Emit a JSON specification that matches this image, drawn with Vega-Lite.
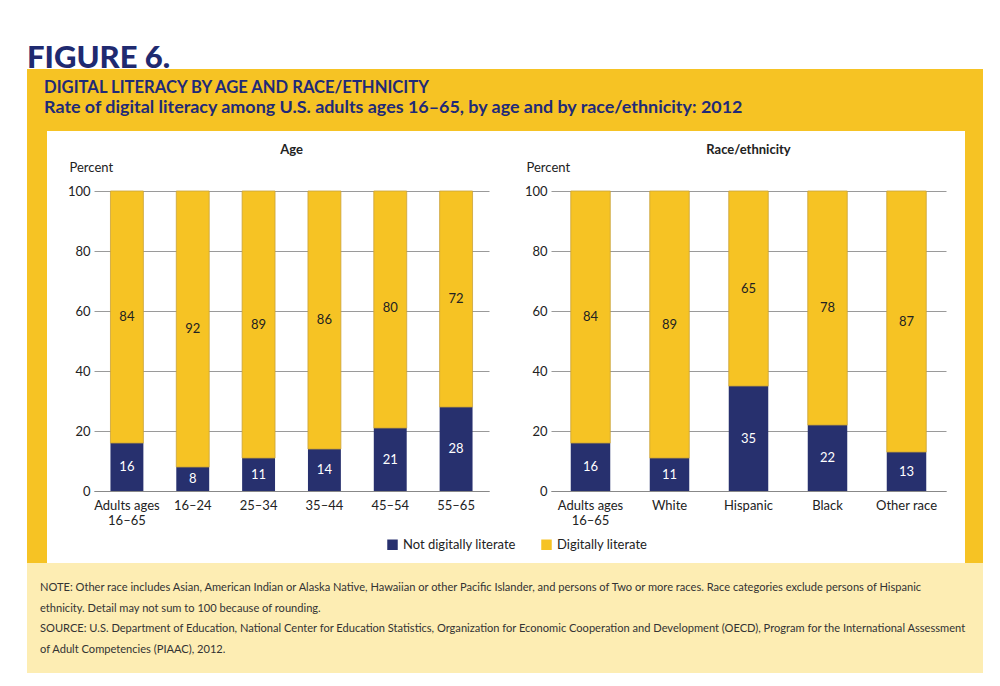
{
  "$schema": "https://vega.github.io/schema/vega-lite/v6.json",
  "background": "white",
  "padding": {"left": 27, "right": 17, "top": 43, "bottom": 14},
  "title": {"text": "FIGURE 6.", "anchor": "start", "font": "Lato", "fontSize": 31, "fontWeight": 900, "color": "#1F2A70", "offset": -6},
  "datasets": {
    "header": [
      {"line": 1, "text": "DIGITAL LITERACY BY AGE AND RACE/ETHNICITY"},
      {"line": 2, "text": "Rate of digital literacy among U.S. adults ages 16–65, by age and by race/ethnicity: 2012"}
    ],
    "notes": [
      {"line": 1, "text": "NOTE: Other race includes Asian, American Indian or Alaska Native, Hawaiian or other Pacific Islander, and persons of Two or more races. Race categories exclude persons of Hispanic"},
      {"line": 2, "text": "ethnicity. Detail may not sum to 100 because of rounding."},
      {"line": 3, "text": "SOURCE: U.S. Department of Education, National Center for Education Statistics, Organization for Economic Cooperation and Development (OECD), Program for the International Assessment"},
      {"line": 4, "text": "of Adult Competencies (PIAAC), 2012."}
    ],
    "bars": [
      {"panel": "Age", "cat": "Adults ages 16–65", "status": "Not digitally literate", "pct": 16},
      {"panel": "Age", "cat": "Adults ages 16–65", "status": "Digitally literate", "pct": 84},
      {"panel": "Age", "cat": "16–24", "status": "Not digitally literate", "pct": 8},
      {"panel": "Age", "cat": "16–24", "status": "Digitally literate", "pct": 92},
      {"panel": "Age", "cat": "25–34", "status": "Not digitally literate", "pct": 11},
      {"panel": "Age", "cat": "25–34", "status": "Digitally literate", "pct": 89},
      {"panel": "Age", "cat": "35–44", "status": "Not digitally literate", "pct": 14},
      {"panel": "Age", "cat": "35–44", "status": "Digitally literate", "pct": 86},
      {"panel": "Age", "cat": "45–54", "status": "Not digitally literate", "pct": 21},
      {"panel": "Age", "cat": "45–54", "status": "Digitally literate", "pct": 80},
      {"panel": "Age", "cat": "55–65", "status": "Not digitally literate", "pct": 28},
      {"panel": "Age", "cat": "55–65", "status": "Digitally literate", "pct": 72},
      {"panel": "Race", "cat": "Adults ages 16–65", "status": "Not digitally literate", "pct": 16},
      {"panel": "Race", "cat": "Adults ages 16–65", "status": "Digitally literate", "pct": 84},
      {"panel": "Race", "cat": "White", "status": "Not digitally literate", "pct": 11},
      {"panel": "Race", "cat": "White", "status": "Digitally literate", "pct": 89},
      {"panel": "Race", "cat": "Hispanic", "status": "Not digitally literate", "pct": 35},
      {"panel": "Race", "cat": "Hispanic", "status": "Digitally literate", "pct": 65},
      {"panel": "Race", "cat": "Black", "status": "Not digitally literate", "pct": 22},
      {"panel": "Race", "cat": "Black", "status": "Digitally literate", "pct": 78},
      {"panel": "Race", "cat": "Other race", "status": "Not digitally literate", "pct": 13},
      {"panel": "Race", "cat": "Other race", "status": "Digitally literate", "pct": 87}
    ]
  },
  "spacing": 0,
  "vconcat": [
    {
      "width": 956,
      "height": 62,
      "view": {"fill": "#F6C324", "stroke": null},
      "data": {"name": "header"},
      "encoding": {
        "x": {"datum": 0, "type": "quantitative", "scale": {"domain": [-1, 55], "nice": false, "zero": false}, "axis": null},
        "y": {"field": "line", "type": "quantitative", "scale": {"domain": [0.075, 3.175], "nice": false, "zero": false, "reverse": true}, "axis": null},
        "text": {"field": "text"}
      },
      "layer": [
        {"transform": [{"filter": "datum.line == 1"}], "mark": {"type": "text", "align": "left", "baseline": "middle", "font": "Lato", "fontWeight": "bold", "fontSize": 16.6, "color": "#1F2A78"}},
        {"transform": [{"filter": "datum.line == 2"}], "mark": {"type": "text", "align": "left", "baseline": "middle", "font": "Lato", "fontWeight": "bold", "fontSize": 17.9, "color": "#1F2A78"}}
      ]
    },
    {
      "spacing": 0,
      "resolve": {"scale": {"color": "independent"}, "legend": {"color": "independent"}},
      "hconcat": [
        {"width": 20, "height": 432, "data": {"values": [{}]}, "mark": {"type": "rect", "color": "#F6C324"}, "encoding": {}},
        {
          "spacing": 0,
          "vconcat": [
            {"width": 918, "height": 1, "data": {"values": [{}]}, "mark": {"type": "rect", "opacity": 0}, "encoding": {}},
            {
              "spacing": 19,
              "resolve": {"scale": {"color": "independent"}, "legend": {"color": "independent"}},
              "hconcat": [
                {"width": 1, "height": 1, "data": {"values": [{}]}, "mark": {"type": "rect", "opacity": 0}, "encoding": {}},
                {
                  "spacing": 35,
                  "hconcat": [
                    {
                      "width": 395,
                      "height": 300,
                      "title": {"text": ["", "Age"], "lineHeight": 11.5, "fontSize": 13, "fontWeight": "bold", "font": "Lato", "color": "#222", "offset": 4, "anchor": "middle"},
                      "data": {"name": "bars"},
                      "transform": [
                        {"filter": "datum.panel == 'Age'"},
                        {"stack": "pct", "groupby": ["cat"], "sort": [{"field": "status", "order": "descending"}], "as": ["lo", "hi"]},
                        {"calculate": "(datum.lo + datum.hi) / 2", "as": "mid"}
                      ],
                      "encoding": {
                        "x": {"field": "cat", "type": "nominal", "sort": null, "title": null, "scale": {"paddingInner": 0.5, "paddingOuter": 0.25},
                          "axis": {"labelAngle": 0, "ticks": false, "domainColor": "#888", "labelPadding": 8, "labelFont": "Lato", "labelFontSize": 13, "labelColor": "#222", "labelLineHeight": 15, "labelExpr": "datum.label == 'Adults ages 16–65' ? ['Adults ages', '16–65'] : datum.label"}}
                      },
                      "layer": [
                        {
                          "mark": {"type": "bar", "strokeWidth": 0.8},
                          "encoding": {
                            "y": {"field": "lo", "type": "quantitative", "scale": {"domain": [0, 100], "clamp": true},
                              "axis": {"title": "Percent", "titleAngle": 0, "titleAlign": "left", "titleBaseline": "bottom", "titleX": -25, "titleY": -17, "titleFont": "Lato", "titleFontWeight": "normal", "titleFontSize": 13, "titleColor": "#222", "values": [0, 20, 40, 60, 80, 100], "domain": false, "ticks": false, "labelPadding": 4, "labelFont": "Lato", "labelFontSize": 13, "labelColor": "#222", "gridColor": "#9a9a9a", "gridWidth": 1}},
                            "y2": {"field": "hi"},
                            "color": {"field": "status", "type": "nominal", "scale": {"domain": ["Not digitally literate", "Digitally literate"], "range": ["#27306E", "#F6C324"]},
                              "legend": {"title": null, "orient": "none", "legendX": 292, "legendY": 347, "direction": "horizontal", "symbolType": "square", "symbolSize": 110, "labelFont": "Lato", "labelFontSize": 13, "labelColor": "#222", "columnPadding": 24}},
                            "stroke": {"condition": {"test": "datum.status == 'Digitally literate'", "value": "#C9A23A"}, "value": null}
                          }
                        },
                        {
                          "mark": {"type": "text", "font": "Lato", "fontSize": 13, "baseline": "middle"},
                          "encoding": {
                            "y": {"field": "mid", "type": "quantitative", "title": "Percent"},
                            "text": {"field": "pct"},
                            "color": {"condition": {"test": "datum.status == 'Not digitally literate'", "value": "white"}, "value": "#222"}
                          }
                        }
                      ]
                    },
                    {
                      "width": 395,
                      "height": 300,
                      "title": {"text": ["", "Race/ethnicity"], "lineHeight": 11.5, "fontSize": 13, "fontWeight": "bold", "font": "Lato", "color": "#222", "offset": 4, "anchor": "middle"},
                      "data": {"name": "bars"},
                      "transform": [
                        {"filter": "datum.panel == 'Race'"},
                        {"stack": "pct", "groupby": ["cat"], "sort": [{"field": "status", "order": "descending"}], "as": ["lo", "hi"]},
                        {"calculate": "(datum.lo + datum.hi) / 2", "as": "mid"}
                      ],
                      "encoding": {
                        "x": {"field": "cat", "type": "nominal", "sort": null, "title": null, "scale": {"paddingInner": 0.5, "paddingOuter": 0.25},
                          "axis": {"labelAngle": 0, "ticks": false, "domainColor": "#888", "labelPadding": 8, "labelFont": "Lato", "labelFontSize": 13, "labelColor": "#222", "labelLineHeight": 15, "labelExpr": "datum.label == 'Adults ages 16–65' ? ['Adults ages', '16–65'] : datum.label"}}
                      },
                      "layer": [
                        {
                          "mark": {"type": "bar", "strokeWidth": 0.8},
                          "encoding": {
                            "y": {"field": "lo", "type": "quantitative", "scale": {"domain": [0, 100], "clamp": true},
                              "axis": {"title": "Percent", "titleAngle": 0, "titleAlign": "left", "titleBaseline": "bottom", "titleX": -25, "titleY": -17, "titleFont": "Lato", "titleFontWeight": "normal", "titleFontSize": 13, "titleColor": "#222", "values": [0, 20, 40, 60, 80, 100], "domain": false, "ticks": false, "labelPadding": 4, "labelFont": "Lato", "labelFontSize": 13, "labelColor": "#222", "gridColor": "#9a9a9a", "gridWidth": 1}},
                            "y2": {"field": "hi"},
                            "color": {"field": "status", "type": "nominal", "scale": {"domain": ["Not digitally literate", "Digitally literate"], "range": ["#27306E", "#F6C324"]},
                              "legend": {"title": null, "orient": "none", "legendX": 292, "legendY": 347, "direction": "horizontal", "symbolType": "square", "symbolSize": 110, "labelFont": "Lato", "labelFontSize": 13, "labelColor": "#222", "columnPadding": 24}},
                            "stroke": {"condition": {"test": "datum.status == 'Digitally literate'", "value": "#C9A23A"}, "value": null}
                          }
                        },
                        {
                          "mark": {"type": "text", "font": "Lato", "fontSize": 13, "baseline": "middle"},
                          "encoding": {
                            "y": {"field": "mid", "type": "quantitative", "title": "Percent"},
                            "text": {"field": "pct"},
                            "color": {"condition": {"test": "datum.status == 'Not digitally literate'", "value": "white"}, "value": "#222"}
                          }
                        }
                      ]
                    }
                  ]
                }
              ]
            }
          ]
        },
        {"width": 18, "height": 432, "data": {"values": [{}]}, "mark": {"type": "rect", "color": "#F6C324"}, "encoding": {}}
      ]
    },
    {
      "width": 956,
      "height": 110,
      "view": {"fill": "#FDEDB3", "stroke": null},
      "data": {"name": "notes"},
      "mark": {"type": "text", "align": "left", "baseline": "middle", "font": "Lato", "fontSize": 11.1, "color": "#333"},
      "encoding": {
        "x": {"datum": 0, "type": "quantitative", "scale": {"domain": [-1, 72.5], "nice": false, "zero": false}, "axis": null},
        "y": {"field": "line", "type": "quantitative", "scale": {"domain": [-0.208, 5.106], "nice": false, "zero": false, "reverse": true}, "axis": null},
        "text": {"field": "text"}
      }
    }
  ],
  "config": {"view": {"stroke": null}, "font": "Lato"}
}
